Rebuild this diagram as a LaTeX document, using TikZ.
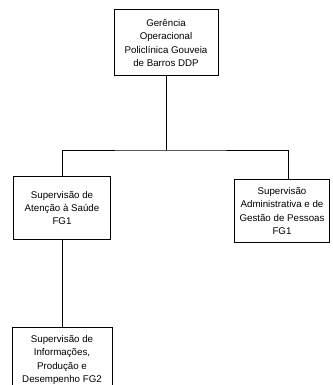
\documentclass[tikz,border=0pt]{standalone}
\usepackage{fontspec}
\setmainfont{Liberation Sans}
\begin{document}
\begin{tikzpicture}[x=0.75pt,y=-0.75pt,
    caixa/.style={draw,line width=0.75pt,align=center,inner sep=0pt},
    liga/.style={line width=0.7pt}]
  \fontsize{7.3}{10}\selectfont
  \useasboundingbox (0,0) rectangle (332,385);
  \clip (0,0) rectangle (332,385);

  % ---- caixas --------------------------------------------------------------
  \node[caixa,minimum width=78pt,minimum height=49.5pt]   (ger)  at (166,43)
    {Gerência\\Operacional\\Policlínica Gouveia\\de Barros DDP};
  \node[caixa,minimum width=72.75pt,minimum height=47.25pt] (sas)  at (62,208)
    {Supervisão de\\Atenção à Saúde\\FG1};
  \node[caixa,minimum width=71.25pt,minimum height=47.25pt] (sadm) at (282,211)
    {Supervisão\\Administrativa e de\\Gestão de Pessoas\\FG1};
  \node[caixa,minimum width=75pt,minimum height=49.5pt]   (sinf) at (62,360)
    {Supervisão de\\Informações,\\Produção e\\Desempenho FG2};

  % ---- ligacoes ------------------------------------------------------------
  \coordinate (barra) at (166,150);
  \draw[liga] (ger) -- (barra);
  \draw[liga] (sas.north) |- (barra) -| ([xshift=4.5pt]sadm.north);
  \draw[liga] (sas) -- (sinf);
\end{tikzpicture}
\end{document}
